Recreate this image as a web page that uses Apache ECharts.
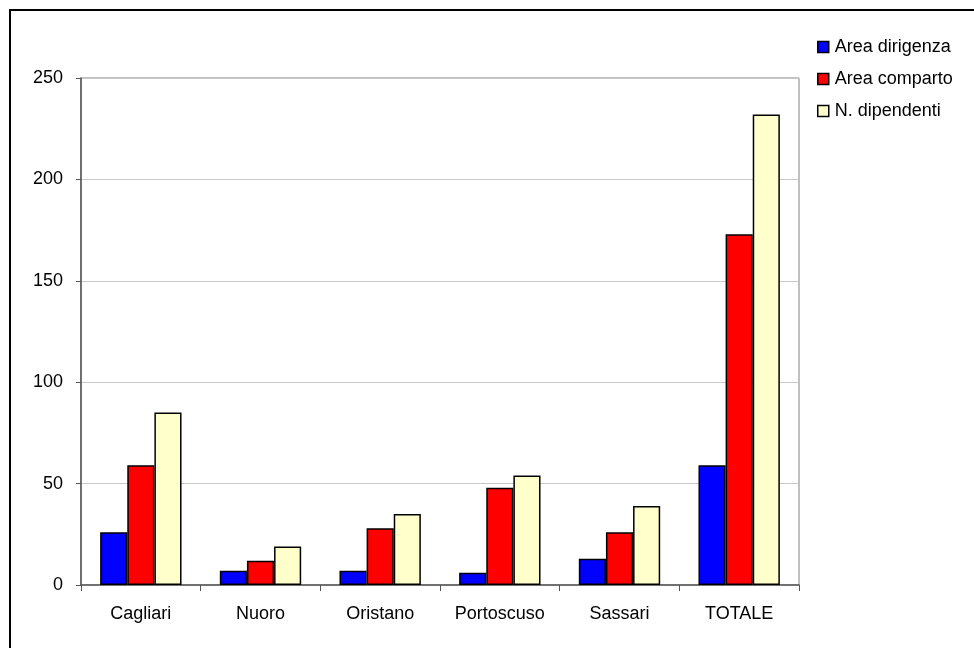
<!DOCTYPE html>
<html>
<head>
<meta charset="utf-8">
<script src="https://cdn.jsdelivr.net/npm/echarts@6/dist/echarts.min.js"></script>
<style>
html,body{margin:0;padding:0;background:#fff;}
#frame{position:absolute;left:9px;top:9px;width:990px;height:700px;border:2px solid #000;box-sizing:border-box;}
#chart{position:absolute;left:0;top:0;width:974px;height:648px;}
</style>
</head>
<body>
<div id="frame"></div>
<div id="chart"></div>
<script>
const categories = ['Cagliari', 'Nuoro', 'Oristano', 'Portoscuso', 'Sassari', 'TOTALE'];
const areaDirigenza = [26, 7, 7, 6, 13, 59];
const areaComparto = [59, 12, 28, 48, 26, 173];
const nDipendenti = [85, 19, 35, 54, 39, 232];
const yTicks = [0, 50, 100, 150, 200, 250];

const font = 'Liberation Sans, Arial, sans-serif';
const chart = echarts.init(document.getElementById('chart'));
const mk = (name, data, color) => ({
  name, type: 'bar', data,
  barGap: '0%', barCategoryGap: '32%',
  itemStyle: { color, borderColor: '#000', borderWidth: 1.5 },
  animation: false
});
chart.setOption({
  animation: false,
  backgroundColor: 'transparent',
  grid: { left: 81, top: 78, right: 175, bottom: 63, show: true, borderColor: '#808080', borderWidth: 1 },
  legend: {
    orient: 'vertical', left: 812, top: 33, padding: 5,
    itemWidth: 11, itemHeight: 11, itemGap: 14,
    icon: 'rect',
    itemStyle: { borderColor: '#000', borderWidth: 1.5 },
    textStyle: { fontFamily: font, fontSize: 18, color: '#000', padding: [0, 0, 0, 1] },
    data: ['Area dirigenza', 'Area comparto', 'N. dipendenti']
  },
  xAxis: {
    type: 'category', data: categories,
    axisLine: { lineStyle: { color: '#555', width: 1.5 } },
    axisTick: { show: true, length: 6, lineStyle: { color: '#555' } },
    axisLabel: { fontFamily: font, fontSize: 18, color: '#000', margin: 20 },
    splitLine: { show: false }
  },
  yAxis: {
    type: 'value', min: yTicks[0], max: yTicks[yTicks.length - 1], interval: 50,
    axisLine: { show: true, lineStyle: { color: '#555', width: 1.5 } },
    axisTick: { show: true, length: 5, lineStyle: { color: '#555' } },
    axisLabel: { fontFamily: font, fontSize: 18, color: '#000', margin: 18 },
    splitLine: { lineStyle: { color: '#c8c8c8', width: 1 } }
  },
  series: [
    mk('Area dirigenza', areaDirigenza, '#0000ff'),
    mk('Area comparto', areaComparto, '#ff0000'),
    mk('N. dipendenti', nDipendenti, '#ffffcc')
  ]
});
</script>
</body>
</html>
